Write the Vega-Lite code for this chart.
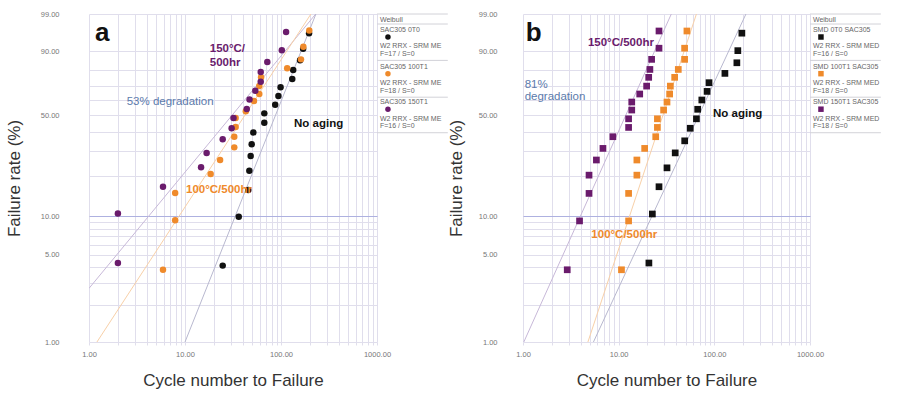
{
  "$schema": "https://vega.github.io/schema/vega-lite/v6.json",
  "padding": {"left": 5, "top": 10, "right": 0, "bottom": 0},
  "background": "white",
  "datasets": {
    "chart": [
      {"panel":"a","role":"fit","series":"150°C/500hr","cycles":1,"rate":2.7},
      {"panel":"a","role":"fit","series":"150°C/500hr","cycles":230,"rate":99},
      {"panel":"a","role":"fit","series":"100°C/500hr","cycles":1.21,"rate":1},
      {"panel":"a","role":"fit","series":"100°C/500hr","cycles":205,"rate":99},
      {"panel":"a","role":"fit","series":"No aging","cycles":10,"rate":1},
      {"panel":"a","role":"fit","series":"No aging","cycles":231,"rate":99},

      {"panel":"a","role":"pt","series":"No aging","cycles":196,"rate":96.0},
      {"panel":"a","role":"pt","series":"No aging","cycles":170,"rate":91.0},
      {"panel":"a","role":"pt","series":"No aging","cycles":158,"rate":85.6},
      {"panel":"a","role":"pt","series":"No aging","cycles":134,"rate":80.1},
      {"panel":"a","role":"pt","series":"No aging","cycles":131,"rate":74.5},
      {"panel":"a","role":"pt","series":"No aging","cycles":99,"rate":69.0},
      {"panel":"a","role":"pt","series":"No aging","cycles":94,"rate":63.0},
      {"panel":"a","role":"pt","series":"No aging","cycles":87,"rate":57.0},
      {"panel":"a","role":"pt","series":"No aging","cycles":67,"rate":51.3},
      {"panel":"a","role":"pt","series":"No aging","cycles":67,"rate":45.3},
      {"panel":"a","role":"pt","series":"No aging","cycles":51.5,"rate":39.6},
      {"panel":"a","role":"pt","series":"No aging","cycles":49.5,"rate":33.3},
      {"panel":"a","role":"pt","series":"No aging","cycles":48.3,"rate":27.7},
      {"panel":"a","role":"pt","series":"No aging","cycles":46.8,"rate":21.8},
      {"panel":"a","role":"pt","series":"No aging","cycles":45.6,"rate":15.8},
      {"panel":"a","role":"pt","series":"No aging","cycles":36.3,"rate":9.9},
      {"panel":"a","role":"pt","series":"No aging","cycles":24.7,"rate":4.1},

      {"panel":"a","role":"pt","series":"100°C/500hr","cycles":197,"rate":96.6},
      {"panel":"a","role":"pt","series":"100°C/500hr","cycles":171,"rate":91.8},
      {"panel":"a","role":"pt","series":"100°C/500hr","cycles":161.5,"rate":86.1},
      {"panel":"a","role":"pt","series":"100°C/500hr","cycles":116,"rate":81.2},
      {"panel":"a","role":"pt","series":"100°C/500hr","cycles":62,"rate":75.6},
      {"panel":"a","role":"pt","series":"100°C/500hr","cycles":59.4,"rate":69.8},
      {"panel":"a","role":"pt","series":"100°C/500hr","cycles":59.4,"rate":64.4},
      {"panel":"a","role":"pt","series":"100°C/500hr","cycles":52.3,"rate":59.6},
      {"panel":"a","role":"pt","series":"100°C/500hr","cycles":43,"rate":52.7},
      {"panel":"a","role":"pt","series":"100°C/500hr","cycles":33.7,"rate":48.3},
      {"panel":"a","role":"pt","series":"100°C/500hr","cycles":33.7,"rate":42.7},
      {"panel":"a","role":"pt","series":"100°C/500hr","cycles":32.6,"rate":37.2},
      {"panel":"a","role":"pt","series":"100°C/500hr","cycles":32.6,"rate":31.7},
      {"panel":"a","role":"pt","series":"100°C/500hr","cycles":23.2,"rate":26.0},
      {"panel":"a","role":"pt","series":"100°C/500hr","cycles":18.5,"rate":20.7},
      {"panel":"a","role":"pt","series":"100°C/500hr","cycles":7.9,"rate":15.0},
      {"panel":"a","role":"pt","series":"100°C/500hr","cycles":7.9,"rate":9.3},
      {"panel":"a","role":"pt","series":"100°C/500hr","cycles":5.9,"rate":3.8},

      {"panel":"a","role":"pt","series":"150°C/500hr","cycles":113,"rate":96.3},
      {"panel":"a","role":"pt","series":"150°C/500hr","cycles":102,"rate":90.4},
      {"panel":"a","role":"pt","series":"150°C/500hr","cycles":72,"rate":84.7},
      {"panel":"a","role":"pt","series":"150°C/500hr","cycles":61.5,"rate":78.9},
      {"panel":"a","role":"pt","series":"150°C/500hr","cycles":61.5,"rate":72.7},
      {"panel":"a","role":"pt","series":"150°C/500hr","cycles":54,"rate":66.6},
      {"panel":"a","role":"pt","series":"150°C/500hr","cycles":47,"rate":60.7},
      {"panel":"a","role":"pt","series":"150°C/500hr","cycles":44,"rate":54.2},
      {"panel":"a","role":"pt","series":"150°C/500hr","cycles":32,"rate":48.3},
      {"panel":"a","role":"pt","series":"150°C/500hr","cycles":30.6,"rate":42.0},
      {"panel":"a","role":"pt","series":"150°C/500hr","cycles":24.7,"rate":35.8},
      {"panel":"a","role":"pt","series":"150°C/500hr","cycles":16.8,"rate":29.1},
      {"panel":"a","role":"pt","series":"150°C/500hr","cycles":14.7,"rate":23.1},
      {"panel":"a","role":"pt","series":"150°C/500hr","cycles":5.9,"rate":16.7},
      {"panel":"a","role":"pt","series":"150°C/500hr","cycles":2.0,"rate":10.5},
      {"panel":"a","role":"pt","series":"150°C/500hr","cycles":2.0,"rate":4.3},

      {"panel":"a","role":"tag","label":"a","cycles":1.155,"rate":96.0},
      {"panel":"a","role":"note","series":"150°C/500hr","label":"150°C/","cycles":18.1,"rate":90.9},
      {"panel":"a","role":"note","series":"150°C/500hr","label":"500hr","cycles":18.1,"rate":84.2},
      {"panel":"a","role":"deg","series":"degradation","label":"53% degradation","cycles":2.47,"rate":58.7},
      {"panel":"a","role":"note","series":"No aging","label":"No aging","cycles":136.7,"rate":44.5},
      {"panel":"a","role":"note","series":"100°C/500hr","label":"100°C/500hr","cycles":10.24,"rate":15.8},

      {"panel":"b","role":"fit","series":"150°C/500hr","cycles":1.02,"rate":1},
      {"panel":"b","role":"fit","series":"150°C/500hr","cycles":35.5,"rate":99},
      {"panel":"b","role":"fit","series":"100°C/500hr","cycles":4.77,"rate":1},
      {"panel":"b","role":"fit","series":"100°C/500hr","cycles":65,"rate":99},
      {"panel":"b","role":"fit","series":"No aging","cycles":5.45,"rate":1},
      {"panel":"b","role":"fit","series":"No aging","cycles":214,"rate":99},

      {"panel":"b","role":"pt","series":"No aging","cycles":194,"rate":96.0},
      {"panel":"b","role":"pt","series":"No aging","cycles":176,"rate":90.2},
      {"panel":"b","role":"pt","series":"No aging","cycles":172,"rate":84.3},
      {"panel":"b","role":"pt","series":"No aging","cycles":129,"rate":78.1},
      {"panel":"b","role":"pt","series":"No aging","cycles":88,"rate":72.1},
      {"panel":"b","role":"pt","series":"No aging","cycles":84,"rate":66.2},
      {"panel":"b","role":"pt","series":"No aging","cycles":74,"rate":60.3},
      {"panel":"b","role":"pt","series":"No aging","cycles":67,"rate":54.0},
      {"panel":"b","role":"pt","series":"No aging","cycles":65,"rate":47.8},
      {"panel":"b","role":"pt","series":"No aging","cycles":56,"rate":42.0},
      {"panel":"b","role":"pt","series":"No aging","cycles":49,"rate":35.0},
      {"panel":"b","role":"pt","series":"No aging","cycles":39,"rate":29.1},
      {"panel":"b","role":"pt","series":"No aging","cycles":32,"rate":22.9},
      {"panel":"b","role":"pt","series":"No aging","cycles":26.4,"rate":16.7},
      {"panel":"b","role":"pt","series":"No aging","cycles":22.5,"rate":10.4},
      {"panel":"b","role":"pt","series":"No aging","cycles":20.7,"rate":4.3},

      {"panel":"b","role":"pt","series":"100°C/500hr","cycles":51.7,"rate":96.5},
      {"panel":"b","role":"pt","series":"100°C/500hr","cycles":48.9,"rate":91.2},
      {"panel":"b","role":"pt","series":"100°C/500hr","cycles":48.9,"rate":86.1},
      {"panel":"b","role":"pt","series":"100°C/500hr","cycles":42.0,"rate":80.5},
      {"panel":"b","role":"pt","series":"100°C/500hr","cycles":38.5,"rate":75.6},
      {"panel":"b","role":"pt","series":"100°C/500hr","cycles":34.7,"rate":69.8},
      {"panel":"b","role":"pt","series":"100°C/500hr","cycles":34.1,"rate":64.4},
      {"panel":"b","role":"pt","series":"100°C/500hr","cycles":32.0,"rate":58.9},
      {"panel":"b","role":"pt","series":"100°C/500hr","cycles":29.5,"rate":53.5},
      {"panel":"b","role":"pt","series":"100°C/500hr","cycles":25.4,"rate":47.8},
      {"panel":"b","role":"pt","series":"100°C/500hr","cycles":25.4,"rate":42.5},
      {"panel":"b","role":"pt","series":"100°C/500hr","cycles":24.4,"rate":37.2},
      {"panel":"b","role":"pt","series":"100°C/500hr","cycles":18.7,"rate":31.2},
      {"panel":"b","role":"pt","series":"100°C/500hr","cycles":15.5,"rate":26.0},
      {"panel":"b","role":"pt","series":"100°C/500hr","cycles":15.5,"rate":20.3},
      {"panel":"b","role":"pt","series":"100°C/500hr","cycles":12.7,"rate":14.9},
      {"panel":"b","role":"pt","series":"100°C/500hr","cycles":12.7,"rate":9.2},
      {"panel":"b","role":"pt","series":"100°C/500hr","cycles":10.7,"rate":3.8},

      {"panel":"b","role":"pt","series":"150°C/500hr","cycles":26.4,"rate":96.5},
      {"panel":"b","role":"pt","series":"150°C/500hr","cycles":26.4,"rate":91.2},
      {"panel":"b","role":"pt","series":"150°C/500hr","cycles":22.1,"rate":86.1},
      {"panel":"b","role":"pt","series":"150°C/500hr","cycles":21.2,"rate":80.5},
      {"panel":"b","role":"pt","series":"150°C/500hr","cycles":20.6,"rate":75.6},
      {"panel":"b","role":"pt","series":"150°C/500hr","cycles":19.6,"rate":69.8},
      {"panel":"b","role":"pt","series":"150°C/500hr","cycles":16.6,"rate":64.4},
      {"panel":"b","role":"pt","series":"150°C/500hr","cycles":13.7,"rate":58.9},
      {"panel":"b","role":"pt","series":"150°C/500hr","cycles":13.7,"rate":53.5},
      {"panel":"b","role":"pt","series":"150°C/500hr","cycles":12.7,"rate":47.8},
      {"panel":"b","role":"pt","series":"150°C/500hr","cycles":12.7,"rate":42.5},
      {"panel":"b","role":"pt","series":"150°C/500hr","cycles":8.7,"rate":37.2},
      {"panel":"b","role":"pt","series":"150°C/500hr","cycles":6.85,"rate":31.2},
      {"panel":"b","role":"pt","series":"150°C/500hr","cycles":5.85,"rate":26.0},
      {"panel":"b","role":"pt","series":"150°C/500hr","cycles":4.9,"rate":20.3},
      {"panel":"b","role":"pt","series":"150°C/500hr","cycles":4.9,"rate":14.9},
      {"panel":"b","role":"pt","series":"150°C/500hr","cycles":3.9,"rate":9.2},
      {"panel":"b","role":"pt","series":"150°C/500hr","cycles":2.9,"rate":3.8},

      {"panel":"b","role":"tag","label":"b","cycles":1.067,"rate":96.0},
      {"panel":"b","role":"note","series":"150°C/500hr","label":"150°C/500hr","cycles":4.77,"rate":93.2},
      {"panel":"b","role":"deg","series":"degradation","label":"81%","cycles":1.04,"rate":70.5},
      {"panel":"b","role":"deg","series":"degradation","label":"degradation","cycles":1.04,"rate":62.1},
      {"panel":"b","role":"note","series":"No aging","label":"No aging","cycles":96.9,"rate":50.8},
      {"panel":"b","role":"note","series":"100°C/500hr","label":"100°C/500hr","cycles":5.18,"rate":7.2}
    ],
    "legend": [
      {"panel":"a","role":"sep","col":0,"col2":9.7,"pos":0},
      {"panel":"a","role":"sep","col":0,"col2":9.7,"pos":1.25},
      {"panel":"a","role":"sep","col":0,"col2":9.7,"pos":5.8},
      {"panel":"a","role":"sep","col":0,"col2":9.7,"pos":10.4},
      {"panel":"a","role":"sep","col":0,"col2":9.7,"pos":14.84},
      {"panel":"a","role":"text","col":0.4,"pos":0.7,"label":"Weibull"},
      {"panel":"a","role":"text","col":0.4,"pos":2.0,"label":"SAC305 0T0"},
      {"panel":"a","role":"text","col":0.4,"pos":4.05,"label":"W2 RRX - SRM MED"},
      {"panel":"a","role":"text","col":0.4,"pos":4.97,"label":"F=17 / S=0"},
      {"panel":"a","role":"text","col":0.4,"pos":6.6,"label":"SAC305 100T1"},
      {"panel":"a","role":"text","col":0.4,"pos":8.65,"label":"W2 RRX - SRM MED"},
      {"panel":"a","role":"text","col":0.4,"pos":9.57,"label":"F=18 / S=0"},
      {"panel":"a","role":"text","col":0.4,"pos":11.0,"label":"SAC305 150T1"},
      {"panel":"a","role":"text","col":0.4,"pos":13.1,"label":"W2 RRX - SRM MED"},
      {"panel":"a","role":"text","col":0.4,"pos":14.02,"label":"F=16 / S=0"},
      {"panel":"a","role":"sym","col":1.5,"pos":2.875,"series":"No aging"},
      {"panel":"a","role":"sym","col":1.5,"pos":7.46,"series":"100°C/500hr"},
      {"panel":"a","role":"sym","col":1.5,"pos":11.9,"series":"150°C/500hr"},

      {"panel":"b","role":"sep","col":0,"col2":9.7,"pos":0},
      {"panel":"b","role":"sep","col":0,"col2":9.7,"pos":1.25},
      {"panel":"b","role":"sep","col":0,"col2":9.7,"pos":5.8},
      {"panel":"b","role":"sep","col":0,"col2":9.7,"pos":10.4},
      {"panel":"b","role":"sep","col":0,"col2":9.7,"pos":14.84},
      {"panel":"b","role":"text","col":0.4,"pos":0.7,"label":"Weibull"},
      {"panel":"b","role":"text","col":0.4,"pos":2.0,"label":"SMD 0T0 SAC305"},
      {"panel":"b","role":"text","col":0.4,"pos":4.05,"label":"W2 RRX - SRM MED"},
      {"panel":"b","role":"text","col":0.4,"pos":4.97,"label":"F=16 / S=0"},
      {"panel":"b","role":"text","col":0.4,"pos":6.6,"label":"SMD 100T1 SAC305"},
      {"panel":"b","role":"text","col":0.4,"pos":8.65,"label":"W2 RRX - SRM MED"},
      {"panel":"b","role":"text","col":0.4,"pos":9.57,"label":"F=18 / S=0"},
      {"panel":"b","role":"text","col":0.4,"pos":11.0,"label":"SMD 150T1 SAC305"},
      {"panel":"b","role":"text","col":0.4,"pos":13.1,"label":"W2 RRX - SRM MED"},
      {"panel":"b","role":"text","col":0.4,"pos":14.02,"label":"F=18 / S=0"},
      {"panel":"b","role":"sym","col":1.5,"pos":2.875,"series":"No aging"},
      {"panel":"b","role":"sym","col":1.5,"pos":7.46,"series":"100°C/500hr"},
      {"panel":"b","role":"sym","col":1.5,"pos":11.9,"series":"150°C/500hr"}
    ]
  },
  "hconcat": [
    {
      "width": 288, "height": 328,
      "data": {"name": "chart"},
      "transform": [{"filter": "datum.panel == 'a'"}, {"calculate": "-log(1 - datum.rate / 100)", "as": "h"}],
      "encoding": {
        "x": {"field": "cycles", "type": "quantitative",
          "scale": {"type": "log", "domain": [1, 1000], "nice": false},
          "axis": {"title": "Cycle number to Failure", "values": [1,2,3,4,5,6,7,8,9,10,20,30,40,50,60,70,80,90,100,200,300,400,500,600,700,800,900,1000],
            "labelExpr": "indexof([1,10,100,1000], datum.value) >= 0 ? format(datum.value, '.2f') : ''",
            "tickSize": 3, "labelPadding": 5, "titlePadding": 15}},
        "y": {"field": "h", "type": "quantitative",
          "scale": {"type": "log", "domain": [0.0100503, 4.6051702], "nice": false},
          "axis": {"title": "Failure rate (%)", "values": [0.0100503,0.0202027,0.0304592,0.040822,0.0512933,0.0618754,0.0725707,0.0833816,0.0943107,0.1053605,0.2231436,0.3566749,0.5108256,0.6931472,0.9162907,1.2039728,1.6094379,2.3025851,4.6051702],
            "labelExpr": "indexof([1,5,10,50,90,99], round(100*(1-exp(-datum.value)))) >= 0 ? format(100*(1-exp(-datum.value)), '.2f') : ''",
            "ticks": false, "labelPadding": 30, "titlePadding": 17,
            "gridColor": {"condition": {"test": "abs(datum.value - 0.1053605) < 0.0001", "value": "#aeb1e0"}, "value": "#e0deec"}}}
      },
      "layer": [
        {"transform": [{"filter": "datum.role == 'fit'"}],
         "mark": {"type": "line", "clip": true, "strokeWidth": 1},
         "encoding": {"stroke": {"field": "series", "type": "nominal", "legend": null,
           "scale": {"domain": ["No aging", "100°C/500hr", "150°C/500hr"], "range": ["#b8b8cf", "#f8d0a8", "#c7b8d8"]}}}},
        {"transform": [{"filter": "datum.role == 'pt'"}],
         "mark": {"type": "point", "shape": "circle", "filled": true, "size": 42, "opacity": 1},
         "encoding": {"color": {"field": "series", "type": "nominal", "legend": null,
           "scale": {"domain": ["No aging", "100°C/500hr", "150°C/500hr", "degradation"], "range": ["#111111", "#ef8a2b", "#6a1b6c", "#5b7aab"]}}}},
        {"transform": [{"filter": "datum.role == 'note'"}],
         "mark": {"type": "text", "align": "left", "baseline": "middle", "fontSize": 11.5, "fontWeight": "bold", "font": "Liberation Sans"},
         "encoding": {"text": {"field": "label"}, "color": {"field": "series", "type": "nominal", "legend": null,
           "scale": {"domain": ["No aging", "100°C/500hr", "150°C/500hr", "degradation"], "range": ["#111111", "#ef8a2b", "#6a1b6c", "#5b7aab"]}}}},
        {"transform": [{"filter": "datum.role == 'deg'"}],
         "mark": {"type": "text", "align": "left", "baseline": "middle", "fontSize": 11.5, "font": "Liberation Sans", "color": "#5b7aab"},
         "encoding": {"text": {"field": "label"}}},
        {"transform": [{"filter": "datum.role == 'tag'"}],
         "mark": {"type": "text", "align": "left", "baseline": "middle", "fontSize": 26, "fontWeight": "bold", "font": "Liberation Sans", "color": "#111111"},
         "encoding": {"text": {"field": "label"}}}
      ]
    },
    {
      "width": 146, "height": 328,
      "data": {"name": "legend"},
      "transform": [{"filter": "datum.panel == 'a'"}],
      "encoding": {
        "x": {"field": "col", "type": "quantitative", "scale": {"domain": [0, 20], "nice": false, "zero": false}, "axis": null},
        "y": {"field": "pos", "type": "quantitative", "scale": {"domain": [0, 41], "reverse": true, "nice": false, "zero": false}, "axis": null}
      },
      "layer": [
        {"transform": [{"filter": "datum.role == 'sep'"}], "mark": {"type": "rule", "color": "#d2d2d8", "strokeWidth": 1}, "encoding": {"x2": {"field": "col2"}}},
        {"transform": [{"filter": "datum.role == 'text'"}], "mark": {"type": "text", "align": "left", "baseline": "middle", "fontSize": 7, "font": "Liberation Sans", "color": "#666666", "limit": 66, "ellipsis": "\u200b"}, "encoding": {"text": {"field": "label"}}},
        {"transform": [{"filter": "datum.role == 'sym'"}], "mark": {"type": "point", "shape": "circle", "filled": true, "size": 30, "opacity": 1},
         "encoding": {"color": {"field": "series", "type": "nominal", "legend": null,
           "scale": {"domain": ["No aging", "100°C/500hr", "150°C/500hr", "degradation"], "range": ["#111111", "#ef8a2b", "#6a1b6c", "#5b7aab"]}}}}
      ]
    },
    {
      "width": 287, "height": 328,
      "data": {"name": "chart"},
      "transform": [{"filter": "datum.panel == 'b'"}, {"calculate": "-log(1 - datum.rate / 100)", "as": "h"}],
      "encoding": {
        "x": {"field": "cycles", "type": "quantitative",
          "scale": {"type": "log", "domain": [1, 1000], "nice": false},
          "axis": {"title": "Cycle number to Failure", "values": [1,2,3,4,5,6,7,8,9,10,20,30,40,50,60,70,80,90,100,200,300,400,500,600,700,800,900,1000],
            "labelExpr": "indexof([1,10,100,1000], datum.value) >= 0 ? format(datum.value, '.2f') : ''",
            "tickSize": 3, "labelPadding": 5, "titlePadding": 15}},
        "y": {"field": "h", "type": "quantitative",
          "scale": {"type": "log", "domain": [0.0100503, 4.6051702], "nice": false},
          "axis": {"title": "Failure rate (%)", "values": [0.0100503,0.0202027,0.0304592,0.040822,0.0512933,0.0618754,0.0725707,0.0833816,0.0943107,0.1053605,0.2231436,0.3566749,0.5108256,0.6931472,0.9162907,1.2039728,1.6094379,2.3025851,4.6051702],
            "labelExpr": "indexof([1,5,10,50,90,99], round(100*(1-exp(-datum.value)))) >= 0 ? format(100*(1-exp(-datum.value)), '.2f') : ''",
            "ticks": false, "labelPadding": 26, "titlePadding": 13,
            "gridColor": {"condition": {"test": "abs(datum.value - 0.1053605) < 0.0001", "value": "#aeb1e0"}, "value": "#e0deec"}}}
      },
      "layer": [
        {"transform": [{"filter": "datum.role == 'fit'"}],
         "mark": {"type": "line", "clip": true, "strokeWidth": 1},
         "encoding": {"stroke": {"field": "series", "type": "nominal", "legend": null,
           "scale": {"domain": ["No aging", "100°C/500hr", "150°C/500hr"], "range": ["#b8b8cf", "#f8d0a8", "#c7b8d8"]}}}},
        {"transform": [{"filter": "datum.role == 'pt'"}],
         "mark": {"type": "point", "shape": "square", "filled": true, "size": 45, "opacity": 1},
         "encoding": {"color": {"field": "series", "type": "nominal", "legend": null,
           "scale": {"domain": ["No aging", "100°C/500hr", "150°C/500hr", "degradation"], "range": ["#111111", "#ef8a2b", "#6a1b6c", "#5b7aab"]}}}},
        {"transform": [{"filter": "datum.role == 'note'"}],
         "mark": {"type": "text", "align": "left", "baseline": "middle", "fontSize": 11.5, "fontWeight": "bold", "font": "Liberation Sans"},
         "encoding": {"text": {"field": "label"}, "color": {"field": "series", "type": "nominal", "legend": null,
           "scale": {"domain": ["No aging", "100°C/500hr", "150°C/500hr", "degradation"], "range": ["#111111", "#ef8a2b", "#6a1b6c", "#5b7aab"]}}}},
        {"transform": [{"filter": "datum.role == 'deg'"}],
         "mark": {"type": "text", "align": "left", "baseline": "middle", "fontSize": 11.5, "font": "Liberation Sans", "color": "#5b7aab"},
         "encoding": {"text": {"field": "label"}}},
        {"transform": [{"filter": "datum.role == 'tag'"}],
         "mark": {"type": "text", "align": "left", "baseline": "middle", "fontSize": 26, "fontWeight": "bold", "font": "Liberation Sans", "color": "#111111"},
         "encoding": {"text": {"field": "label"}}}
      ]
    },
    {
      "width": 84, "height": 328,
      "data": {"name": "legend"},
      "transform": [{"filter": "datum.panel == 'b'"}],
      "encoding": {
        "x": {"field": "col", "type": "quantitative", "scale": {"domain": [0, 11.5], "nice": false, "zero": false}, "axis": null},
        "y": {"field": "pos", "type": "quantitative", "scale": {"domain": [0, 41], "reverse": true, "nice": false, "zero": false}, "axis": null}
      },
      "layer": [
        {"transform": [{"filter": "datum.role == 'sep'"}], "mark": {"type": "rule", "color": "#d2d2d8", "strokeWidth": 1}, "encoding": {"x2": {"field": "col2"}}},
        {"transform": [{"filter": "datum.role == 'text'"}], "mark": {"type": "text", "align": "left", "baseline": "middle", "fontSize": 7, "font": "Liberation Sans", "color": "#666666", "clip": true}, "encoding": {"text": {"field": "label"}}},
        {"transform": [{"filter": "datum.role == 'sym'"}], "mark": {"type": "point", "shape": "square", "filled": true, "size": 30, "opacity": 1},
         "encoding": {"color": {"field": "series", "type": "nominal", "legend": null,
           "scale": {"domain": ["No aging", "100°C/500hr", "150°C/500hr", "degradation"], "range": ["#111111", "#ef8a2b", "#6a1b6c", "#5b7aab"]}}}}
      ]
    }
  ],
  "spacing": 0,
  "bounds": "flush",
  "config": {
    "view": {"stroke": null},
    "font": "Liberation Sans",
    "axis": {"domain": false, "grid": true, "gridColor": "#e0deec", "gridWidth": 1, "tickColor": "#e0deec",
      "labelColor": "#777777", "labelFont": "Liberation Sans", "labelFontSize": 7.5,
      "titleFont": "Liberation Sans", "titleFontSize": 17, "titleFontWeight": "normal", "titleColor": "#333333",
      "labelOverlap": false, "labelFlush": false}
  }
}
